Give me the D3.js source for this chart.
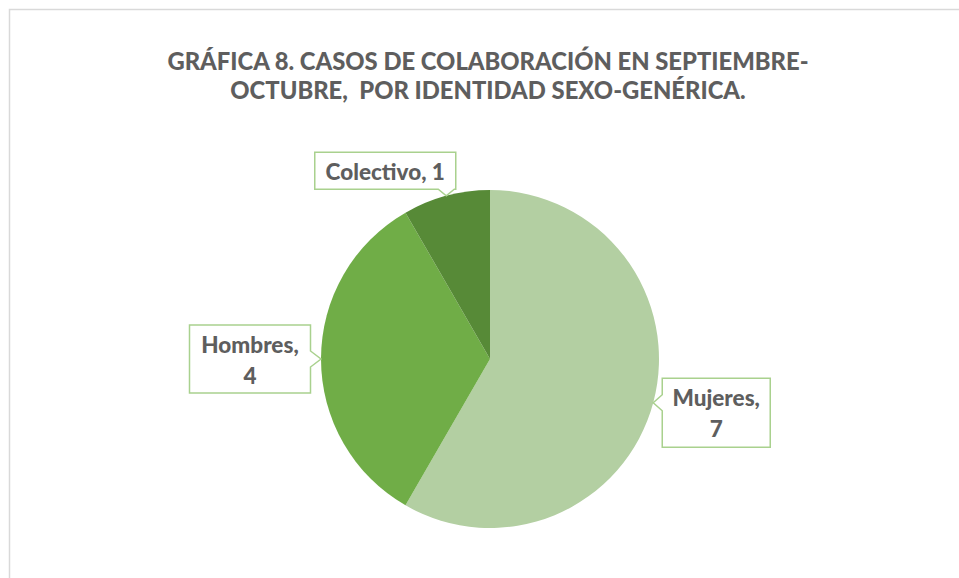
<!DOCTYPE html>
<html>
<head>
<meta charset="utf-8">
<script src="https://cdn.jsdelivr.net/npm/d3@7"></script>
<style>
  body { margin: 0; background: #fff; }
  text { font-family: "Source Sans Pro", Lato, "Open Sans", sans-serif; font-weight: 900; fill: #5e5e5e; }
</style>
</head>
<body>
<svg id="chart"></svg>
<script>
// data
var categories = ["Mujeres", "Hombres", "Colectivo"];
var values = [7, 4, 1];
var colors = ["#b3cfa2", "#70ad47", "#578a37"];
var titleLines = ["GRÁFICA 8. CASOS DE COLABORACIÓN EN SEPTIEMBRE-", "OCTUBRE,  POR IDENTIDAD SEXO-GENÉRICA."];
// how each label wraps (Excel wrapped two of them)
var labelLines = [["Mujeres,", "7"], ["Hombres,", "4"], ["Colectivo, 1"]];

var screen = {width: 959, height: 578};
var center = {x: 490, y: 359};
var radius = 169;

// where the callout box sits relative to its pointer tip
var labelOffsets = [{dx: 63, dy: 10}, {dx: -71, dy: 0}, {dx: -61, dy: -25}];
var boxSizes = [{w: 108, h: 69}, {w: 121, h: 68}, {w: 141, h: 37}];

var svg = d3.select("#chart")
    .attr("width", screen.width)
    .attr("height", screen.height);

// chart area border
svg.append("rect")
    .attr("x", 9.5)
    .attr("y", 9.5)
    .attr("width", screen.width + 20)
    .attr("height", screen.height + 20)
    .attr("fill", "none")
    .attr("stroke", "#d9d9d9")
    .attr("stroke-width", 1.5);

// title
svg.append("g")
    .selectAll("text")
    .data(titleLines)
    .enter()
    .append("text")
    .attr("x", 488)
    .attr("y", function(d, i) { return 70 + i * 29; })
    .attr("text-anchor", "middle")
    .style("font-size", "23.8px")
    .style("white-space", "pre")
    .attr("xml:space", "preserve")
    .text(function(d) { return d; });

var table = categories.map(function(c, i) {
    return {name: c, value: values[i], color: colors[i], lines: labelLines[i]};
});

var pie = d3.pie()
    .sort(null)
    .value(function(d) { return d.value; });

var arc = d3.arc()
    .innerRadius(0)
    .outerRadius(radius);

var arcs = pie(table);

var g = svg.append("g")
    .attr("transform", "translate(" + center.x + "," + center.y + ")");

g.selectAll("path")
    .data(arcs)
    .enter()
    .append("path")
    .attr("d", arc)
    .attr("fill", function(d) { return d.data.color; });

// build a callout: rectangle with a little pointer on the side facing the tip
var calloutPath = function(x0, y0, x1, y1, tx, ty)
{
    var hw = 8;
    var p = [];
    var clamp = function(v, a, b) { return Math.max(a, Math.min(b, v)); };
    p.push([x0, y0]);
    p.push([x1, y0]);
    if (tx > x1) {
        var cy = clamp(ty, y0 + hw, y1 - hw);
        p.push([x1, cy - hw], [tx, ty], [x1, cy + hw]);
    }
    p.push([x1, y1]);
    if (ty > y1) {
        var cx = clamp(tx, x0 + hw, x1 - hw);
        p.push([cx + hw, y1], [tx, ty], [cx - hw, y1]);
    }
    p.push([x0, y1]);
    if (tx < x0) {
        var cy2 = clamp(ty, y0 + hw, y1 - hw);
        p.push([x0, cy2 + hw], [tx, ty], [x0, cy2 - hw]);
    }
    return "M" + p.map(function(q) { return q[0] + "," + q[1]; }).join("L") + "Z";
};

var labels = svg.append("g").classed("labels", true);

arcs.forEach(function(d, i)
{
    var mid = (d.startAngle + d.endAngle) / 2;
    var tx = center.x + Math.sin(mid) * radius;
    var ty = center.y - Math.cos(mid) * radius;
    var bx = tx + labelOffsets[i].dx;
    var by = ty + labelOffsets[i].dy;
    var w = boxSizes[i].w, h = boxSizes[i].h;
    var x0 = bx - w / 2, y0 = by - h / 2;

    labels.append("path")
        .attr("d", calloutPath(x0, y0, x0 + w, y0 + h, tx, ty))
        .attr("fill", "#fff")
        .attr("stroke", "#a9d18e")
        .attr("stroke-width", 1.5);

    var n = d.data.lines.length;
    labels.append("g")
        .selectAll("text")
        .data(d.data.lines)
        .enter()
        .append("text")
        .attr("x", bx)
        .attr("y", function(t, j) { return by + (j - (n - 1) / 2) * 31 + 9; })
        .attr("text-anchor", "middle")
        .style("font-size", "22.5px")
        .text(function(t) { return t; });
});
</script>
</body>
</html>
